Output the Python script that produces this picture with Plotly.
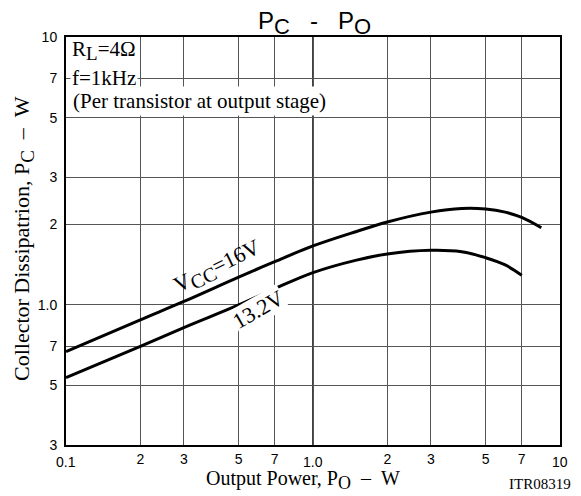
import math
import plotly.graph_objects as go

# Data (log-log)
po_16 = [0.1, 0.2, 0.3, 0.5, 0.7, 1.0, 1.5, 2.0, 3.0, 4.0, 5.0, 6.0, 7.0, 8.4]
pc_16 = [0.67, 0.88, 1.03, 1.27, 1.45, 1.66, 1.88, 2.04, 2.22, 2.29, 2.28, 2.22, 2.12, 1.94]
po_132 = [0.1, 0.2, 0.3, 0.5, 0.7, 1.0, 1.5, 2.0, 3.0, 4.0, 5.0, 6.0, 7.0]
pc_132 = [0.535, 0.70, 0.823, 1.0, 1.15, 1.32, 1.47, 1.55, 1.60, 1.58, 1.50, 1.41, 1.29]

x_minor_ticks = [0.2, 0.3, 0.5, 0.7, 2, 3, 5, 7]
x_minor_text = ["2", "3", "5", "7", "2", "3", "5", "7"]
x_decade_ticks = [0.1, 1.0, 10]
x_decade_text = ["0.1", "1.0", "10"]
y_ticks = [0.3, 0.5, 0.7, 1.0, 2, 3, 5, 7, 10]
y_text = ["3", "5", "7", "1.0", "2", "3", "5", "7", "10"]

SERIF = "Liberation Serif"
SANS = "Liberation Sans"

# the page body has an 8px margin, so the figure is drawn 8px in from the window corner
OFF = 8
PAGE_W, PAGE_H = 581, 496
W, H = PAGE_W - OFF, PAGE_H - OFF
# plot area in window (page) pixels
L, R, T, B = 66, 560, 37, 445


def px(x):
    return (x - L) / (R - L)


def py(y):
    return (B - y) / (B - T)


def sub(t, size):
    return "<sub><span style='font-size:%dpx'>%s</span></sub>" % (size, t)


NB = "\u00a0"

fig = go.Figure()
fig.add_trace(go.Scatter(x=po_16, y=pc_16, mode="lines", line=dict(color="black", width=3, shape="spline"),
                         showlegend=False, hoverinfo="skip"))
fig.add_trace(go.Scatter(x=po_132, y=pc_132, mode="lines", line=dict(color="black", width=3, shape="spline"),
                         showlegend=False, hoverinfo="skip"))

# darker decade line
fig.add_shape(type="line", xref="x", yref="paper", x0=1.0, x1=1.0, y0=0, y1=1,
              line=dict(color="black", width=1.5), layer="below")

annotations = []
# decade tick labels (sit lower than the 2,3,5,7 labels)
for v, t in zip(x_decade_ticks, x_decade_text):
    annotations.append(dict(x=math.log10(v), y=py(462), xref="x", yref="paper", text=t, showarrow=False,
                            font=dict(family=SANS, size=14, color="black"), xanchor="center", yanchor="middle"))

annotations += [
    dict(x=px(70), y=py(50), xref="paper", yref="paper", text="R" + sub("L", 19) + "=4Ω", showarrow=False,
         font=dict(family=SERIF, size=21, color="black"), xanchor="left", yanchor="middle"),
    dict(x=px(70), y=py(78), xref="paper", yref="paper", text="f=1kHz", showarrow=False,
         bgcolor="white", borderpad=1,
         font=dict(family=SERIF, size=21, color="black"), xanchor="left", yanchor="middle"),
    dict(x=px(70), y=py(101), xref="paper", yref="paper", text="(Per transistor at output stage)", showarrow=False,
         bgcolor="white", borderpad=2,
         font=dict(family=SERIF, size=21, color="black"), xanchor="left", yanchor="middle"),
    dict(x=math.log10(0.41), y=math.log10(1.38), xref="x", yref="y", text="V" + sub("CC", 20) + "=16V",
         showarrow=False, textangle=-26,
         font=dict(family=SERIF, size=22, color="black"), xanchor="center", yanchor="middle"),
    dict(x=math.log10(0.6), y=math.log10(0.96), xref="x", yref="y", text="13.2V", showarrow=False, textangle=-30,
         bgcolor="white", borderpad=0,
         font=dict(family=SERIF, size=22, color="black"), xanchor="center", yanchor="middle"),
    dict(x=px(314), y=py(23), xref="paper", yref="paper",
         text="P" + sub("C", 22) + NB * 3 + "-" + NB * 3 + "P" + sub("O", 22), showarrow=False,
         font=dict(family=SANS, size=24, color="black"), xanchor="center", yanchor="middle"),
    dict(x=px(303), y=py(480), xref="paper", yref="paper",
         text="Output Power, P" + sub("O", 18) + NB * 2 + "–" + NB * 2 + "W", showarrow=False,
         font=dict(family=SERIF, size=20, color="black"), xanchor="center", yanchor="middle"),
    dict(x=px(23), y=py(239), xref="paper", yref="paper",
         text="Collector Dissipatrion, P" + sub("C", 19) + NB * 2 + "–" + NB * 2 + "W",
         showarrow=False, textangle=-90,
         font=dict(family=SERIF, size=22, color="black"), xanchor="center", yanchor="middle"),
    dict(x=px(540), y=py(484), xref="paper", yref="paper", text="ITR08319", showarrow=False,
         font=dict(family=SERIF, size=15, color="black"), xanchor="center", yanchor="middle"),
]

fig.update_layout(
    width=W, height=H, autosize=False,
    margin=dict(l=L - OFF, r=PAGE_W - R, t=T - OFF, b=PAGE_H - B, pad=0),
    paper_bgcolor="white", plot_bgcolor="white",
    annotations=annotations,
    showlegend=False,
)
fig.update_xaxes(type="log", range=[-1, 1], tickmode="array", tickvals=x_minor_ticks + [1.0],
                 ticktext=x_minor_text + [""],
                 showgrid=True, gridcolor="#555", gridwidth=1, showline=True, linecolor="black", linewidth=2,
                 mirror=True, ticks="", ticklabelstandoff=0, tickfont=dict(family=SANS, size=14, color="black"),
                 zeroline=False)
fig.update_yaxes(type="log", range=[-0.5228787, 1], tickmode="array", tickvals=y_ticks, ticktext=y_text,
                 showgrid=True, gridcolor="#555", gridwidth=1, showline=True, linecolor="black", linewidth=2,
                 mirror=True, ticks="", ticklabelstandoff=4, tickfont=dict(family=SANS, size=14, color="black"),
                 zeroline=False)

fig.write_html("out.html")
